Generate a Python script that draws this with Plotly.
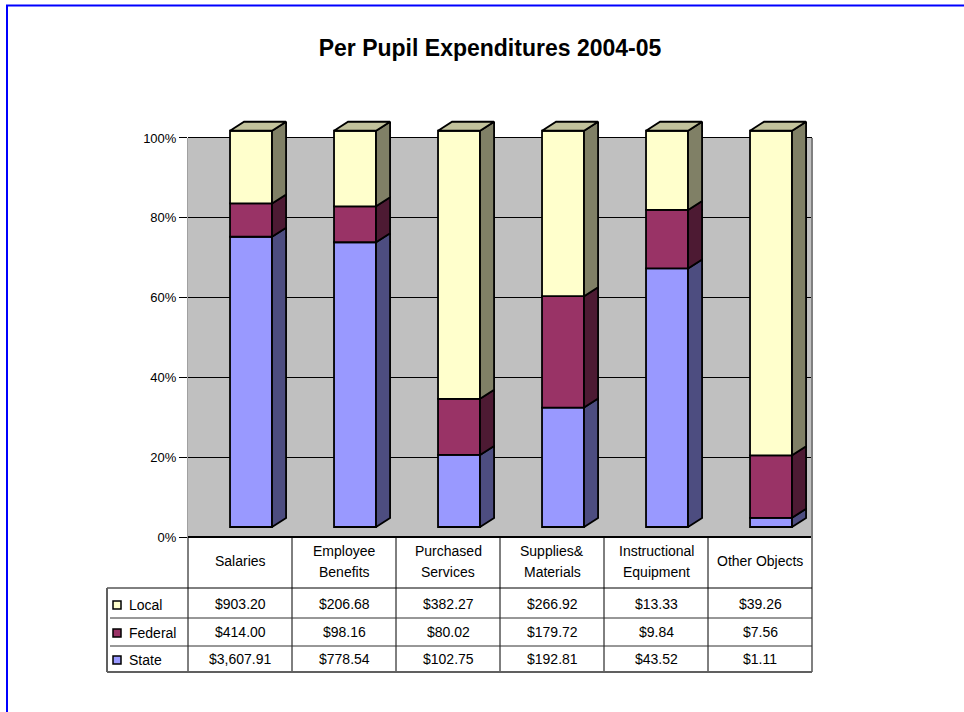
import plotly.graph_objects as go

# ---------------- data ----------------
categories = ["Salaries", "Employee\nBenefits", "Purchased\nServices",
              "Supplies&\nMaterials", "Instructional\nEquipment", "Other Objects"]
local_vals = [903.20, 206.68, 382.27, 266.92, 13.33, 39.26]
federal_vals = [414.00, 98.16, 80.02, 179.72, 9.84, 7.56]
state_vals = [3607.91, 778.54, 102.75, 192.81, 43.52, 1.11]
tick_vals = [0, 20, 40, 60, 80, 100]
tick_text = ["0%", "20%", "40%", "60%", "80%", "100%"]
title_text = "Per Pupil Expenditures 2004-05"

# ---------------- style / geometry ----------------
W, H = 964, 712
L_PX, R_PX = 188, 812
TOP_PX, BOT_PX = 114, 537
Y_MAX = 106
FONT = "Liberation Sans, Arial, sans-serif"

FX0, FW = 0.404, 0.404       # front face offset/width within category slot
DX, DY = 0.135, 2.26         # pseudo-3D depth offsets (x units, % units)
BASE, SCALE = 2.5, 0.993     # front face floor and vertical scale

colors = {
    "State": ("#9999FF", "#4D4D80"),
    "Federal": ("#993366", "#4D1A33"),
    "Local": ("#FFFFCC", "#808066"),
}
TOP_COLOR = "#C2C29C"


def ppx(p):
    return (p - L_PX) / (R_PX - L_PX)


def ppy(p):
    return (BOT_PX - p) / (BOT_PX - TOP_PX)


n = len(categories)
totals = [a + b + c for a, b, c in zip(local_vals, federal_vals, state_vals)]
stack = [("State", state_vals), ("Federal", federal_vals), ("Local", local_vals)]

fig = go.Figure()

cum = [0.0] * n
for name, vals in stack:
    front, side = colors[name]
    pct = [v / t * 100 for v, t in zip(vals, totals)]
    base = [BASE + c * SCALE for c in cum]
    h = [p * SCALE for p in pct]
    fig.add_trace(go.Bar(
        x=[i + FX0 + FW / 2 for i in range(n)], y=h, base=base, width=FW,
        marker=dict(color=front, line=dict(color="black", width=1.8)),
        name=name, showlegend=False, hoverinfo="skip", cliponaxis=False))
    xs, ys = [], []
    for i in range(n):
        x1 = i + FX0 + FW
        yb, yt = base[i], base[i] + h[i]
        xs += [x1, x1 + DX, x1 + DX, x1, x1, None]
        ys += [yb, yb + DY, yt + DY, yt, yb, None]
    fig.add_trace(go.Scatter(
        x=xs, y=ys, mode="lines", fill="toself", fillcolor=side,
        line=dict(color="black", width=1.8), showlegend=False, hoverinfo="skip"))
    cum = [c + p for c, p in zip(cum, pct)]

# top faces
xs, ys = [], []
for i in range(n):
    x0 = i + FX0
    x1 = x0 + FW
    yt = BASE + cum[i] * SCALE
    xs += [x0, x1, x1 + DX, x0 + DX, x0, None]
    ys += [yt, yt, yt + DY, yt + DY, yt, None]
fig.add_trace(go.Scatter(
    x=xs, y=ys, mode="lines", fill="toself", fillcolor=TOP_COLOR,
    line=dict(color="black", width=1.8), showlegend=False, hoverinfo="skip"))

shapes = []
# wall
shapes.append(dict(type="rect", xref="x", yref="y", x0=0, x1=n, y0=0, y1=100,
                   fillcolor="#C0C0C0", line=dict(width=0), layer="below"))
shapes.append(dict(type="line", xref="paper", yref="y", x0=0, x1=1, y0=100, y1=100,
                   line=dict(color="#808080", width=2), layer="between"))
shapes.append(dict(type="line", xref="paper", yref="paper", x0=1, x1=1,
                   y0=ppy(672), y1=1 - (Y_MAX - 100) / Y_MAX,
                   line=dict(color="#808080", width=2)))

# table lines
for i in range(n):
    shapes.append(dict(type="line", xref="paper", yref="paper", x0=i / n, x1=i / n,
                       y0=ppy(672), y1=0, line=dict(color="black", width=1)))
shapes.append(dict(type="line", xref="paper", yref="paper", x0=ppx(107), x1=1,
                   y0=ppy(588), y1=ppy(588), line=dict(color="black", width=1)))
for yy in (618, 646):
    shapes.append(dict(type="line", xref="paper", yref="paper", x0=ppx(110), x1=1,
                       y0=ppy(yy), y1=ppy(yy), line=dict(color="#303030", width=1)))
shapes.append(dict(type="line", xref="paper", yref="paper", x0=ppx(107), x1=1,
                   y0=ppy(672), y1=ppy(672), line=dict(color="#606060", width=2)))
shapes.append(dict(type="line", xref="paper", yref="paper", x0=ppx(107), x1=ppx(107),
                   y0=ppy(672), y1=ppy(588), line=dict(color="#606060", width=2)))

# outer blue frame
shapes.append(dict(type="rect", xref="paper", yref="paper", x0=ppx(7), x1=ppx(990),
                   y0=ppy(740), y1=ppy(5.5), line=dict(color="#0000FF", width=2)))

annotations = []
# header labels
for i, c in enumerate(categories):
    lines = c.split("\n")
    if len(lines) == 1:
        ys_px = [561]
    else:
        ys_px = [551, 572]
    for t, ypx in zip(lines, ys_px):
        annotations.append(dict(x=(i + 0.5) / n, y=ppy(ypx), xref="paper", yref="paper",
                                text=t, showarrow=False, xanchor="center", yanchor="middle",
                                font=dict(family=FONT, size=14, color="black")))

rows = [("Local", local_vals, 605), ("Federal", federal_vals, 633), ("State", state_vals, 660)]
for name, vals, ypx in rows:
    front, _ = colors[name]
    shapes.append(dict(type="rect", xref="paper", yref="paper", x0=ppx(113), x1=ppx(121),
                       y0=ppy(ypx + 4), y1=ppy(ypx - 4), fillcolor=front,
                       line=dict(color="black", width=1.5)))
    annotations.append(dict(x=ppx(127), y=ppy(ypx), xref="paper", yref="paper", text=name,
                            showarrow=False, xanchor="left", yanchor="middle",
                            font=dict(family=FONT, size=14, color="black")))
    for i, v in enumerate(vals):
        annotations.append(dict(x=(i + 0.5) / n, y=ppy(ypx - 1), xref="paper", yref="paper",
                                text=f"${v:,.2f}", showarrow=False, xanchor="center",
                                yanchor="middle",
                                font=dict(family=FONT, size=14, color="black")))

fig.update_layout(
    width=W, height=H,
    margin=dict(l=L_PX, r=W - R_PX, t=TOP_PX, b=H - BOT_PX, pad=0),
    paper_bgcolor="white", plot_bgcolor="white",
    barmode="overlay", showlegend=False,
    title=dict(text=f"<b>{title_text}</b>", xref="container", x=490 / W, xanchor="center",
               yref="container", y=1 - 48 / H, yanchor="middle",
               font=dict(family=FONT, size=23, color="black")),
    xaxis=dict(range=[0, n], showticklabels=False, ticks="", showgrid=False,
               zeroline=False, showline=False, fixedrange=True),
    yaxis=dict(range=[0, Y_MAX], tickvals=tick_vals, ticktext=tick_text,
               ticks="outside", ticklen=8, tickcolor="black", tickwidth=1,
               showgrid=True, gridcolor="black", gridwidth=1,
               zeroline=True, zerolinecolor="black", zerolinewidth=1.5,
               showline=False, fixedrange=True,
               tickfont=dict(family=FONT, size=13, color="black")),
    shapes=shapes, annotations=annotations,
)
# left axis line only across the wall
fig.add_shape(type="line", xref="paper", yref="y", x0=0, x1=0, y0=0, y1=100,
              line=dict(color="#404040", width=1), layer="between")

fig.write_html("out.html", config={"displayModeBar": False, "staticPlot": True},
               post_script="document.body.style.margin='0';document.body.style.overflow='hidden';")
